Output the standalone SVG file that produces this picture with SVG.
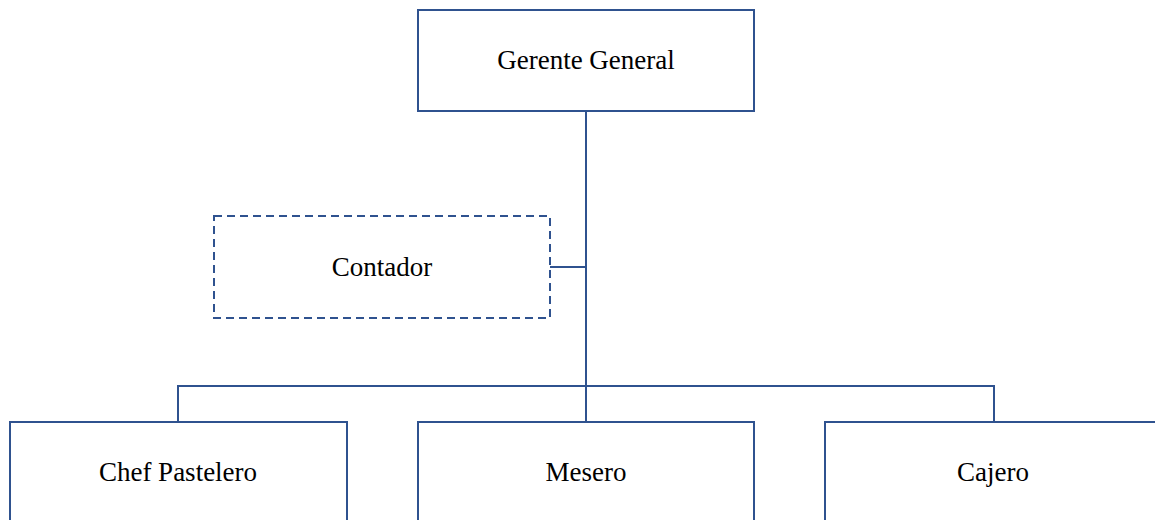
<svg xmlns="http://www.w3.org/2000/svg" width="1155" height="520" viewBox="0 0 1155 520">
<style>
.box{fill:#fff;stroke:#2F528F;stroke-width:2}
.dash{fill:#fff;stroke:#2F528F;stroke-width:2;stroke-dasharray:8 5}
.conn{fill:none;stroke:#2F528F;stroke-width:2}
text{font-family:"Liberation Serif","Times New Roman",serif;font-size:27px;fill:#000;text-anchor:middle}
</style>
<rect width="1155" height="520" fill="#fff"/>
<g id="connectors">
<path class="conn" d="M586 111 V386"/>
<path class="conn" d="M550 267 H586"/>
<path class="conn" d="M178 422 V386 H994 V422"/>
<path class="conn" d="M586 386 V422"/>
</g>
<g id="gerente">
<rect class="box" x="418" y="10" width="336" height="101"/>
<text x="586" y="69">Gerente General</text>
</g>
<g id="contador">
<rect class="dash" x="214" y="216" width="336" height="102"/>
<text x="382" y="276">Contador</text>
</g>
<g id="chef">
<rect class="box" x="10" y="422" width="337" height="101"/>
<text x="178" y="481">Chef Pastelero</text>
</g>
<g id="mesero">
<rect class="box" x="418" y="422" width="336" height="101"/>
<text x="586" y="481">Mesero</text>
</g>
<g id="cajero">
<rect class="box" x="825" y="422" width="336" height="101"/>
<text x="993" y="481">Cajero</text>
</g>
</svg>
